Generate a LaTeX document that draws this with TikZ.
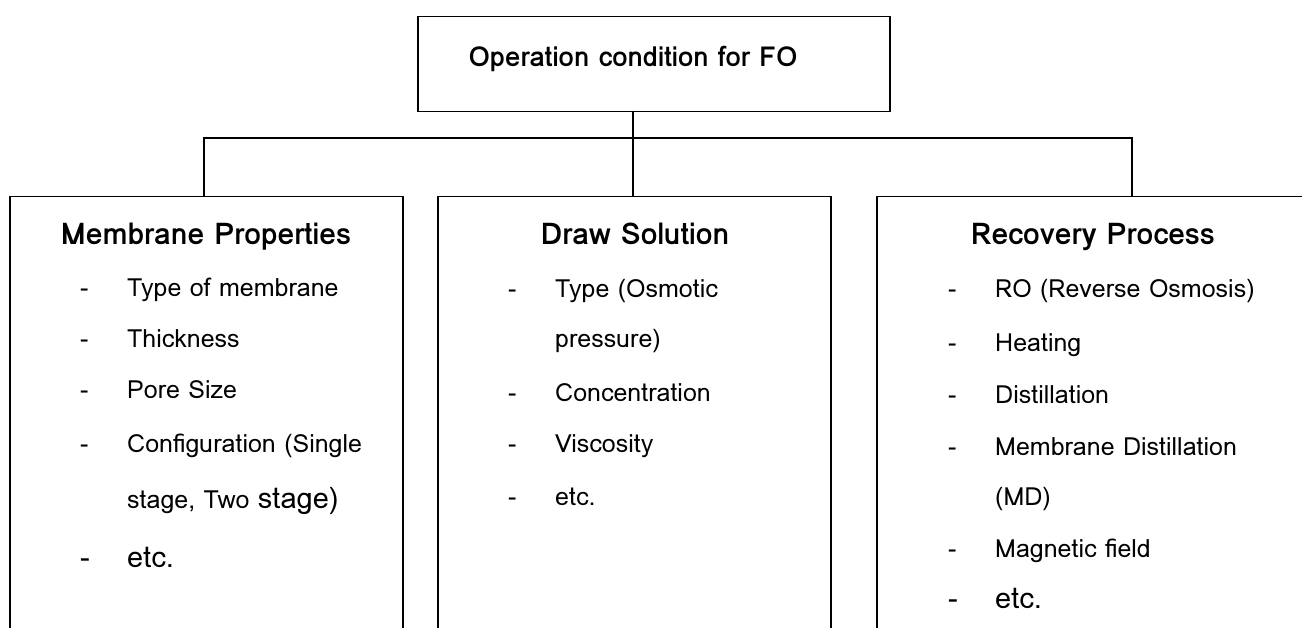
\documentclass[tikz,border=0pt]{standalone}
\usepackage{fontspec}
\setmainfont{Loma}
\begin{document}
\begin{tikzpicture}[x=1pt,y=-1pt,
  box/.style={draw,line width=1.3pt,rectangle,anchor=north,inner sep=0pt},
  conn/.style={line width=1.3pt},
  head/.style={anchor=base,inner sep=0pt,font=\fontsize{30}{33}\selectfont\bfseries},
  ttlf/.style={anchor=base,inner sep=0pt,font=\fontsize{27.5}{30}\selectfont\bfseries},
  item/.style={anchor=base west,inner sep=0pt,font=\fontsize{25}{28}\selectfont},
  big/.style={anchor=base west,inner sep=0pt,font=\fontsize{29}{32}\selectfont}]
\useasboundingbox (0,0) rectangle (1302,628);
% boxes
\node[box,minimum width=472pt,minimum height=95pt] (top) at (654,16) {};
\node[box,minimum width=393pt,minimum height=460pt] (mem) at (206.5,196) {};
\node[box,minimum width=393pt,minimum height=460pt] (drs) at (634.5,196) {};
\node[box,minimum width=450pt,minimum height=460pt] (rec) at (1102,196) {};
% connectors
\coordinate (bus) at (633,138);
\draw[conn] (633,111) coordinate (ts) -- (633,196);
\draw[conn] (bus) -| (204,196);
\draw[conn] (bus) -| (1132,196);
% title
\node[ttlf] (ttl) at (633,67) {Operation condition for FO};
% left
\node[head] (h1) at (206,245) {Membrane Properties};
\foreach \y/\t [count=\i] in {297/Type of membrane,348/Thickness,399/Pore Size,453/Configuration (Single}{
  \node[item] (md\i) at (80,\y) {-};
  \node[item] (mt\i) at (127,\y) {\t};
}
\node[item] (mt5) at (127,508) {stage, Two \fontsize{29}{32}\selectfont stage)};
\node[big] (md6) at (80,567) {-};
\node[big] (mt6) at (127,567) {etc.};
% middle
\node[head] (h2) at (635,245) {Draw Solution};
\foreach \y/\t [count=\i] in {298/Type (Osmotic,402/Concentration,453/Viscosity,505/etc.}{
  \node[item] (dd\i) at (508,\y) {-};
  \node[item] (dt\i) at (555,\y) {\t};
}
\node[item] (dt5) at (555,348) {pressure)};
% right
\node[head] (h3) at (1093,245) {Recovery Process};
\foreach \y/\t [count=\i] in {298/RO (Reverse Osmosis),352/Heating,403/Distillation,455/Membrane Distillation,557/Magnetic field}{
  \node[item] (rd\i) at (948,\y) {-};
  \node[item] (rt\i) at (995,\y) {\t};
}
\node[item] (rt6) at (995,505) {(MD)};
\node[big] (rd7) at (948,608) {-};
\node[big] (rt7) at (995,608) {etc.};
\end{tikzpicture}
\end{document}
